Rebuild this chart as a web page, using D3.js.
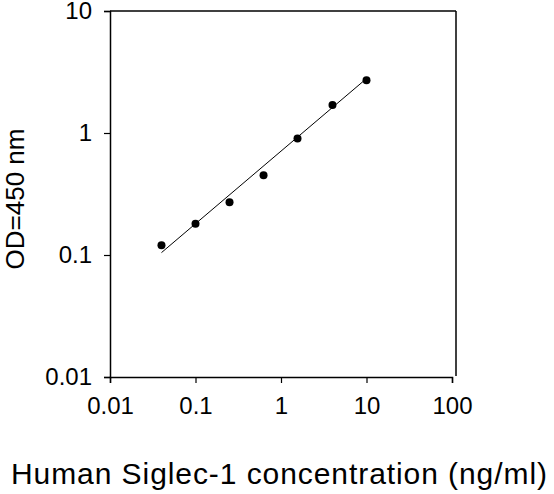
<!DOCTYPE html>
<html>
<head>
<meta charset="utf-8">
<script src="https://cdn.jsdelivr.net/npm/d3@7"></script>
<style>
  body { margin: 0; background: #fff; }
  text { font-family: "Liberation Sans", Arial, sans-serif; fill: #000; }
</style>
</head>
<body>
<svg id="chart" width="554" height="494"></svg>
<script>
// standard curve
const conc = [0.04, 0.1, 0.25, 0.625, 1.56, 4, 10]
const od = [0.12, 0.18, 0.27, 0.45, 0.9, 1.7, 2.7]
const xTicks = [0.01, 0.1, 1, 10, 100]
const yTicks = [0.01, 0.1, 1, 10]
// power fit od = a * conc^b
const fitA = 0.71
const fitB = 0.595

const svg = d3.select('#chart')
const x = d3.scaleLog().domain([0.01, 100]).range([110, 452])
const y = d3.scaleLog().domain([0.01, 10]).range([377, 11])
const fmt = d => d3.format('~g')(d)

svg.append('g')
    .attr('transform', 'translate(0,377)')
    .call(d3.axisBottom(x).tickValues(xTicks).tickFormat(fmt).tickSize(6).tickPadding(14))
    .call(g => g.selectAll('text').attr('font-size', 24))

svg.append('g')
    .attr('transform', 'translate(110,0)')
    .call(d3.axisLeft(y).tickValues(yTicks).tickFormat(fmt).tickSize(6).tickPadding(12))
    .call(g => g.selectAll('text').attr('font-size', 24))

svg.selectAll('.domain').attr('stroke', '#000').attr('stroke-width', 1.5)
svg.selectAll('.tick line').attr('stroke', '#000').attr('stroke-width', 1.2)
svg.append('line').attr('x1', 110).attr('x2', 456).attr('y1', 11).attr('y2', 11)
    .attr('stroke', '#000').attr('stroke-width', 1.5)
svg.append('line').attr('x1', 456).attr('x2', 456).attr('y1', 11).attr('y2', 376)
    .attr('stroke', '#000').attr('stroke-width', 1.5)

const fitX = [conc[0], conc[conc.length - 1]]
svg.append('line')
    .attr('x1', x(fitX[0])).attr('y1', y(fitA * Math.pow(fitX[0], fitB)))
    .attr('x2', x(fitX[1])).attr('y2', y(fitA * Math.pow(fitX[1], fitB)))
    .attr('stroke', '#000').attr('stroke-width', 1)

svg.selectAll('circle.pt')
    .data(conc)
    .join('circle')
    .attr('class', 'pt')
    .attr('cx', d => x(d))
    .attr('cy', (d, i) => y(od[i]))
    .attr('r', 4)
    .attr('fill', '#000')

svg.append('text')
    .attr('x', 279).attr('y', 484)
    .attr('text-anchor', 'middle')
    .attr('font-size', 30)
    .attr('textLength', 536)
    .text('Human Siglec-1 concentration (ng/ml)')

svg.append('text')
    .attr('transform', 'translate(24,199) rotate(-90)')
    .attr('text-anchor', 'middle')
    .attr('font-size', 26)
    .text('OD=450 nm')
</script>
</body>
</html>
